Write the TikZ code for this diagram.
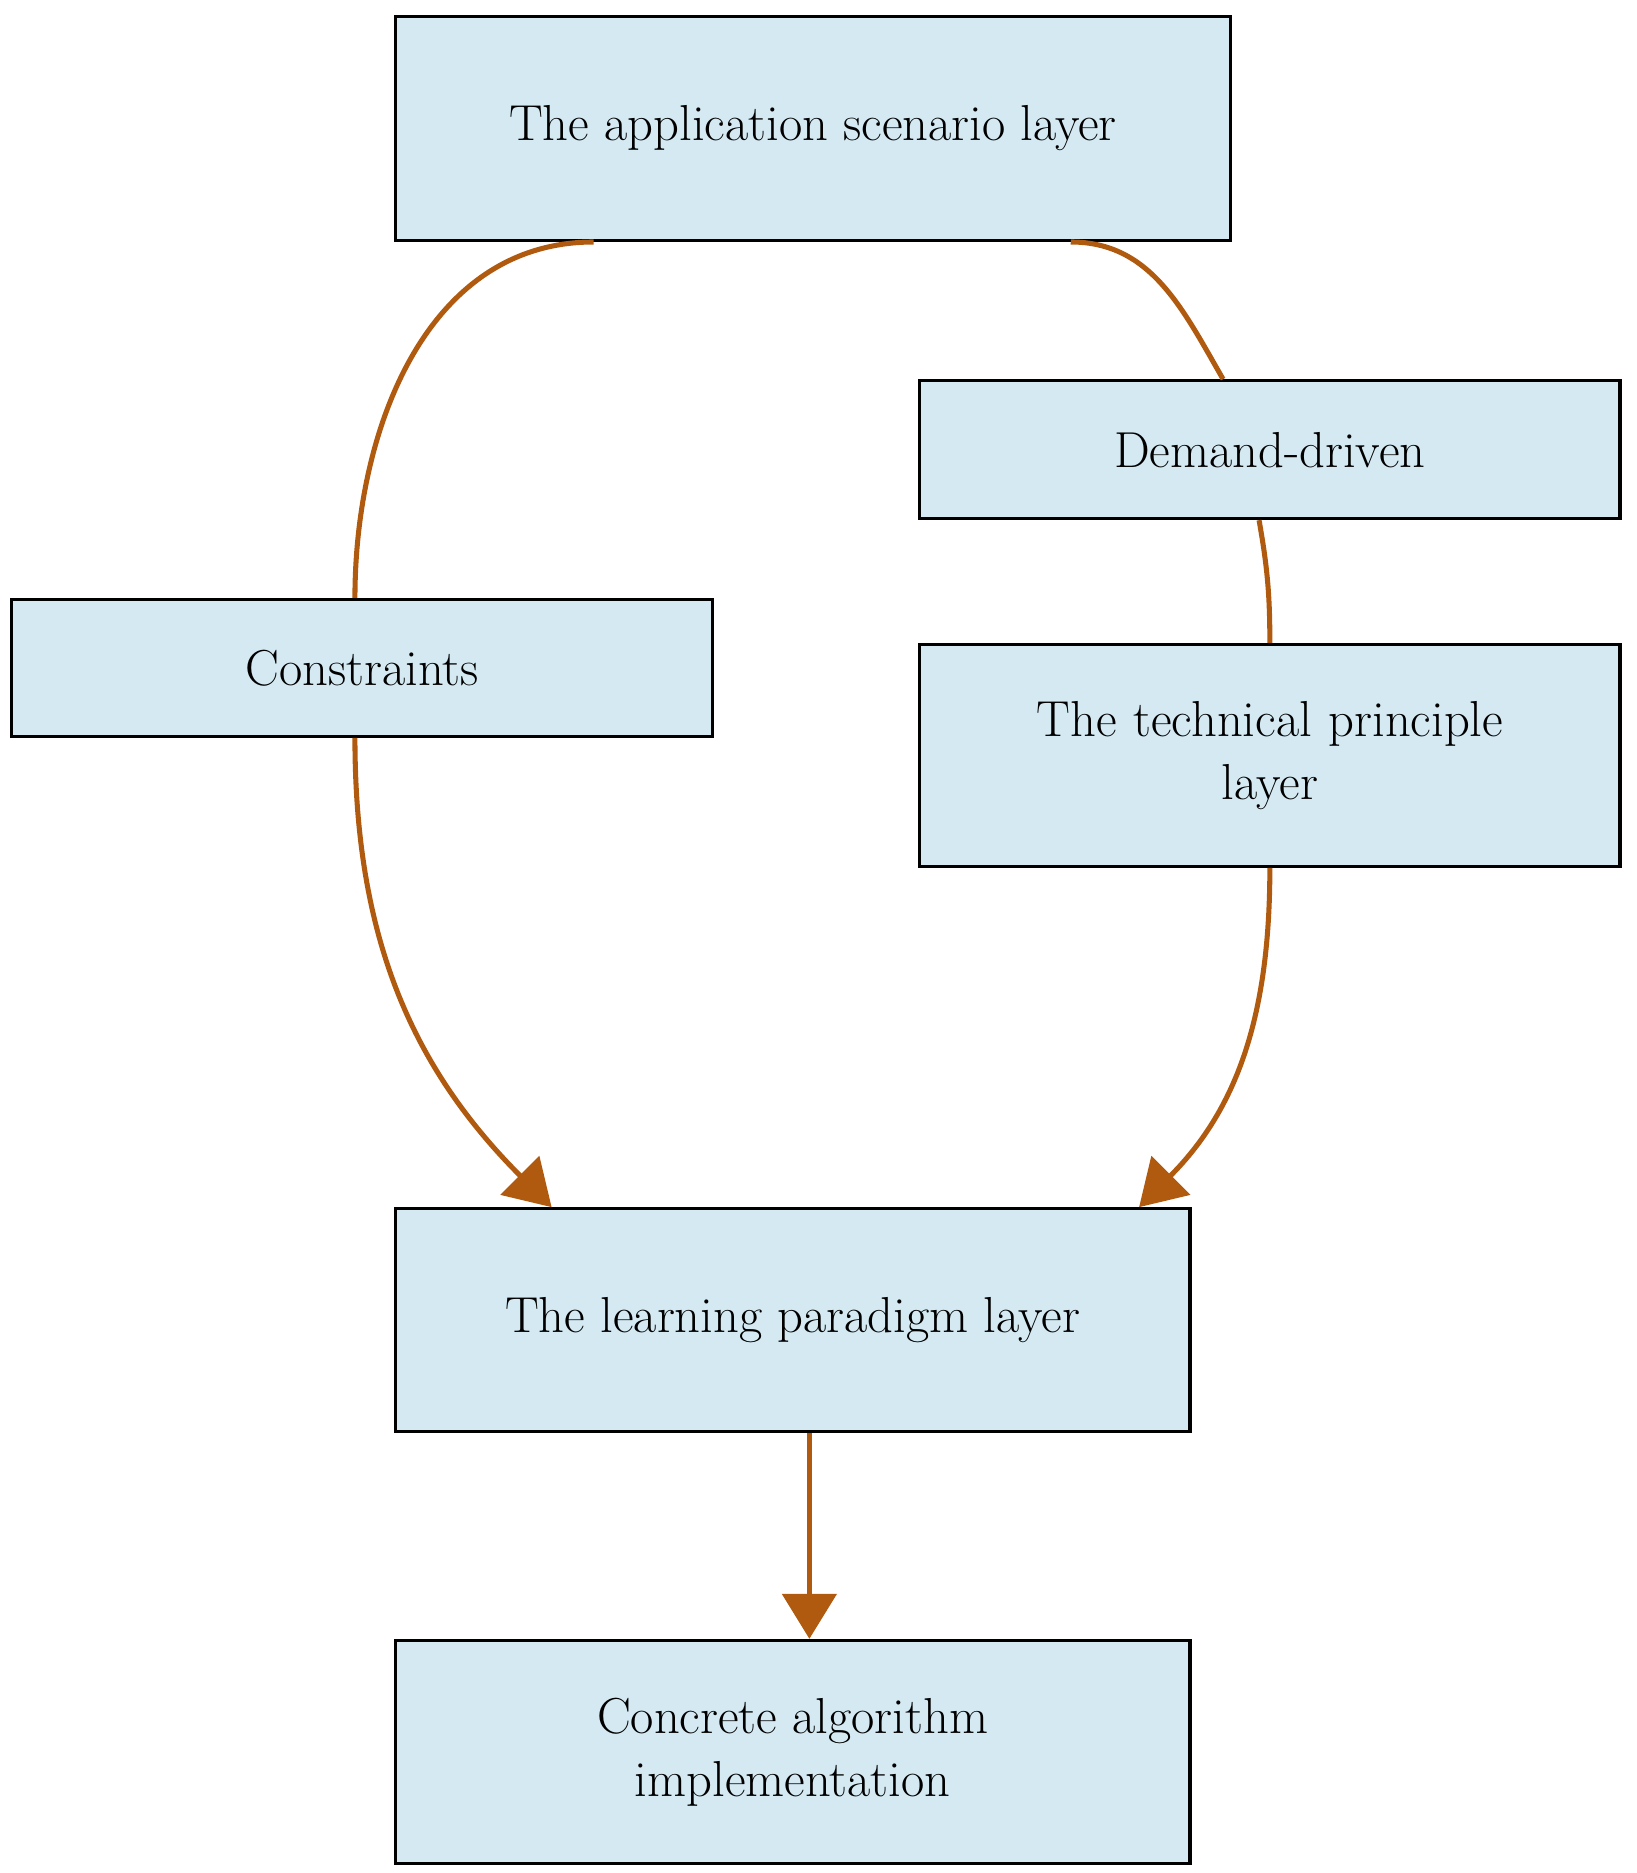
\documentclass[tikz,border=0pt]{standalone}
\usetikzlibrary{positioning,calc,arrows.meta}
\definecolor{edgebrown}{HTML}{B05A10}
\definecolor{boxblue}{HTML}{D4E9F2}
\begin{document}
\begin{tikzpicture}[x=0.02cm,y=-0.02cm,
    box/.style={draw,line width=1.5pt,fill=boxblue,align=center,inner sep=0pt,
      font=\fontsize{24}{30}\selectfont},
    link/.style={draw=edgebrown,line width=2.4pt},
    flow/.style={link,-{Triangle[length=0.75cm,width=0.9cm]}}]
        \useasboundingbox (0,0) rectangle (1365,1562);
        % layers
        \node[box,minimum width=13.94cm,minimum height=3.74cm] (scene) at (678,107) {The application scenario layer};
        \node[box,minimum width=11.7cm,minimum height=2.28cm] (cons) at (302,557) {Constraints};
        \node[box,minimum width=11.68cm,minimum height=2.3cm] (demand) at (1059,375) {Demand-driven};
        \node[box,minimum width=11.68cm,minimum height=3.7cm,text width=11cm] (tech) at (1059,630) {The technical principle\\layer};
        \node[box,minimum width=13.26cm,minimum height=3.72cm] (learn) at (661,1101) {The learning paradigm layer};
        \node[box,minimum width=13.26cm,minimum height=3.72cm] (algo) at (661,1461) {Concrete algorithm\\implementation};
        % connectors
        \draw[link] ([xshift=-3.66cm]scene.south) to[out=180,in=90] ([xshift=-0.12cm]cons.north);
        \draw[flow] ([xshift=-0.12cm]cons.south) to[out=-90,in=135] ([xshift=-4.02cm]learn.north);
        \draw[link] ([xshift=4.3cm]scene.south) to[out=0,in=120] ([xshift=-0.78cm]demand.north);
        \draw[link] ([xshift=-0.18cm]demand.south) to[out=-80,in=90] (tech.north);
        \draw[flow] (tech.south) to[out=-90,in=45] ([xshift=5.78cm]learn.north);
        \draw[flow] ([xshift=0.28cm]learn.south) -- ([xshift=0.28cm]algo.north);
\end{tikzpicture}
\end{document}
